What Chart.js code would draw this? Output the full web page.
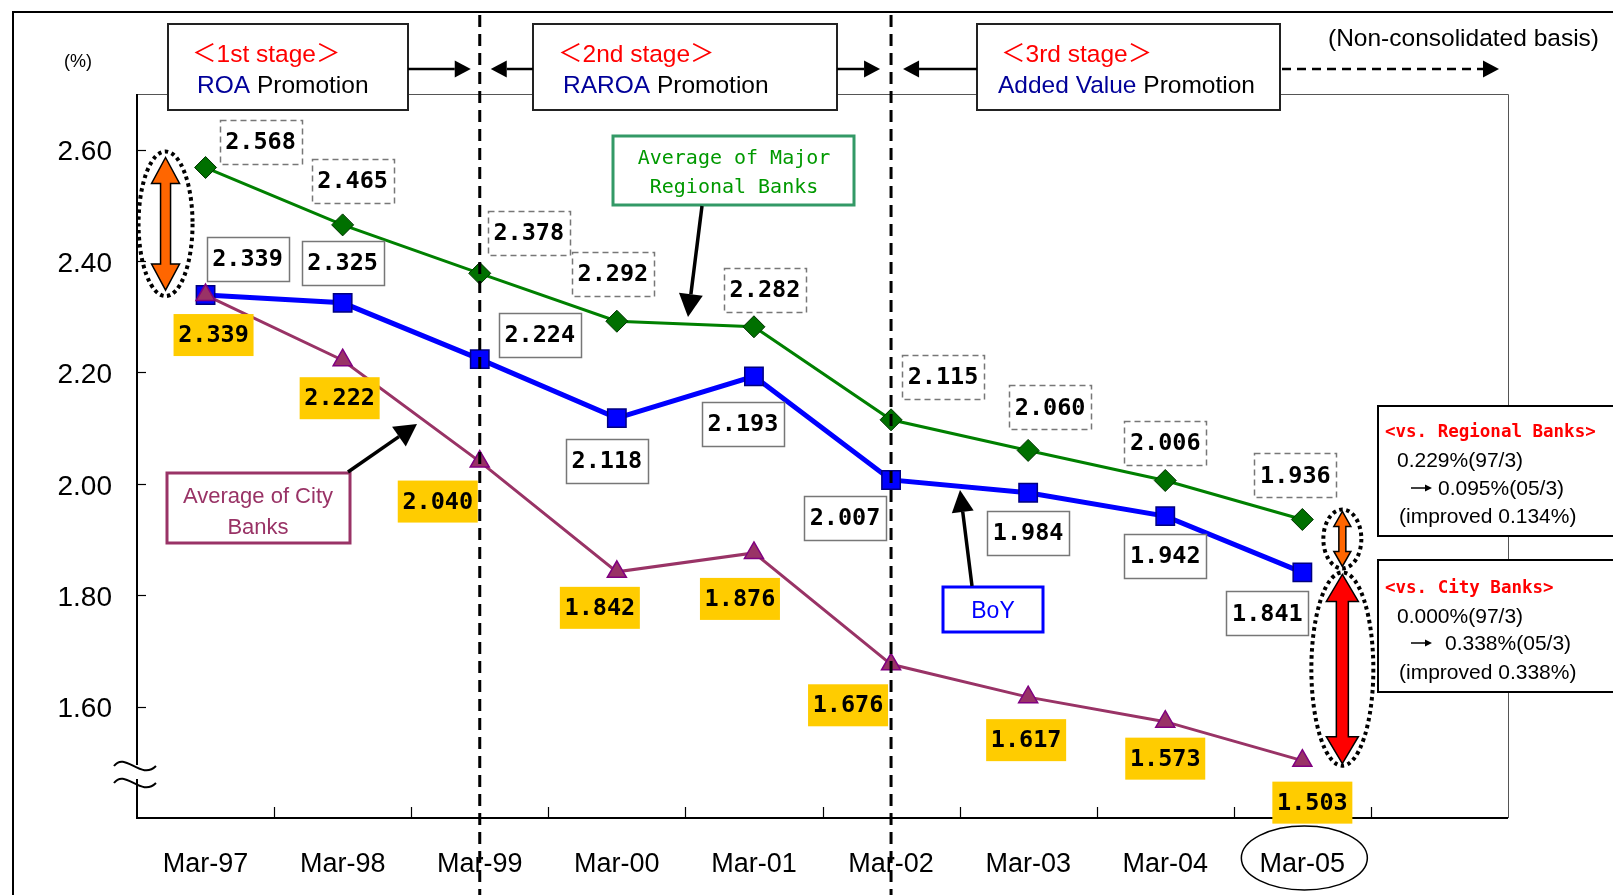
<!DOCTYPE html>
<html><head><meta charset="utf-8">
<script src="https://cdn.jsdelivr.net/npm/chart.js@4/dist/chart.umd.min.js"></script>
<style>html,body{margin:0;padding:0;background:#fff;overflow:hidden}</style>
</head><body>
<canvas id="c" width="1613" height="895"></canvas>
<script>
// ---------- data ----------
const categories = ['Mar-97','Mar-98','Mar-99','Mar-00','Mar-01','Mar-02','Mar-03','Mar-04','Mar-05'];
const regionalBanks = [2.568, 2.465, 2.378, 2.292, 2.282, 2.115, 2.060, 2.006, 1.936];
const boy           = [2.339, 2.325, 2.224, 2.118, 2.193, 2.007, 1.984, 1.942, 1.841];
const cityBanks     = [2.339, 2.222, 2.040, 1.842, 1.876, 1.676, 1.617, 1.573, 1.503];
const yTicks = [1.6, 1.8, 2.0, 2.2, 2.4, 2.6];
const stageBoundaries = ['Mar-99', 'Mar-02'];
const xLabels = categories.concat(['']);

// ---------- layout (pixel offsets of value labels from their points) ----------
const regionalLabelOffsets = [[55,-26],[10,-44],[49,-40],[-4,-47],[11,-37],[52,-43],[22,-43],[0,-38],[-7,-44]];
const boyLabelOffsets      = [[42,-36],[0,-40],[60,-24],[-10,43],[-11,48],[-46,38],[0,40],[0,40],[-35,41]];
const cityLabelOffsets     = [[8,40],[-3,38],[-42,40],[-17,36],[-14,46],[-43,41],[-2,43],[0,37],[10,42]];

const SANS = '"Liberation Sans", "Noto Sans CJK JP", sans-serif';
const MONO = '"DejaVu Sans Mono", monospace';

function arrowLine(ctx, x1, y1, x2, y2, lw, hl, hw, dash) {
  const ang = Math.atan2(y2 - y1, x2 - x1);
  const bx = x2 - hl * Math.cos(ang), by = y2 - hl * Math.sin(ang);
  ctx.save();
  ctx.strokeStyle = '#000'; ctx.fillStyle = '#000'; ctx.lineWidth = lw;
  if (dash) ctx.setLineDash(dash);
  ctx.beginPath(); ctx.moveTo(x1, y1); ctx.lineTo(bx, by); ctx.stroke();
  ctx.setLineDash([]);
  const px = -Math.sin(ang) * hw / 2, py = Math.cos(ang) * hw / 2;
  ctx.beginPath(); ctx.moveTo(x2, y2); ctx.lineTo(bx + px, by + py); ctx.lineTo(bx - px, by - py); ctx.closePath(); ctx.fill();
  ctx.restore();
}

function blockArrow(ctx, x, y1, y2, sw, hw, hl, fill) {
  ctx.save();
  ctx.beginPath();
  ctx.moveTo(x, y1);
  ctx.lineTo(x + hw/2, y1 + hl); ctx.lineTo(x + sw/2, y1 + hl);
  ctx.lineTo(x + sw/2, y2 - hl); ctx.lineTo(x + hw/2, y2 - hl);
  ctx.lineTo(x, y2);
  ctx.lineTo(x - hw/2, y2 - hl); ctx.lineTo(x - sw/2, y2 - hl);
  ctx.lineTo(x - sw/2, y1 + hl); ctx.lineTo(x - hw/2, y1 + hl);
  ctx.closePath();
  ctx.fillStyle = fill; ctx.fill();
  ctx.strokeStyle = '#000'; ctx.lineWidth = 1.5; ctx.stroke();
  ctx.restore();
}

function dottedEllipse(ctx, cx, cy, rx, ry) {
  ctx.save();
  ctx.strokeStyle = '#000'; ctx.lineWidth = 4; ctx.setLineDash([3.5, 3.5]);
  ctx.beginPath(); ctx.ellipse(cx, cy, rx, ry, 0, 0, Math.PI * 2); ctx.stroke();
  ctx.restore();
}

function valueBox(ctx, cx, cy, text, kind) {
  ctx.save();
  let w = 82, h = 44;
  if (kind === 'yellow') { w = 80; h = 42; ctx.fillStyle = '#FFCC00'; ctx.fillRect(cx - w/2, cy - h/2, w, h); }
  else {
    ctx.fillStyle = '#fff'; ctx.fillRect(cx - w/2, cy - h/2, w, h);
    ctx.strokeStyle = '#777'; ctx.lineWidth = 1.5;
    if (kind === 'dashed') ctx.setLineDash([6, 4]);
    ctx.strokeRect(Math.round(cx - w/2) + 0.5, Math.round(cy - h/2) + 0.5, w, h);
    ctx.setLineDash([]);
  }
  ctx.fillStyle = '#000'; ctx.font = 'bold 23.5px ' + MONO;
  ctx.textAlign = 'center'; ctx.textBaseline = 'middle';
  ctx.fillText(text, cx, cy + 1);
  ctx.restore();
}

function segText(ctx, x, y, parts, font) {
  ctx.font = font; ctx.textAlign = 'left'; ctx.textBaseline = 'middle';
  for (const [t, c] of parts) { ctx.fillStyle = c; ctx.fillText(t, x, y); x += ctx.measureText(t).width; }
}

const decor = {
  id: 'decor',
  beforeDraw(chart) {
    const { ctx, chartArea: a } = chart;
    const xs = chart.scales.x, ys = chart.scales.y;
    ctx.save();
    ctx.fillStyle = '#fff'; ctx.fillRect(0, 0, chart.width, chart.height);
    // outer frame
    ctx.strokeStyle = '#000'; ctx.lineWidth = 2;
    ctx.beginPath(); ctx.moveTo(13, 895); ctx.lineTo(13, 12); ctx.lineTo(1613, 12); ctx.stroke();
    // plot border (top/right)
    ctx.strokeStyle = '#555'; ctx.lineWidth = 1;
    ctx.beginPath(); ctx.moveTo(a.left, Math.round(a.top) + 0.5); ctx.lineTo(Math.round(a.right) + 0.5, Math.round(a.top) + 0.5);
    ctx.lineTo(Math.round(a.right) + 0.5, a.bottom); ctx.stroke();
    // axes
    ctx.strokeStyle = '#000'; ctx.lineWidth = 2;
    ctx.beginPath(); ctx.moveTo(a.left, a.top); ctx.lineTo(a.left, a.bottom); ctx.lineTo(a.right, a.bottom); ctx.stroke();
    ctx.lineWidth = 1.2;
    yTicks.forEach(v => {
      const y = Math.round(ys.getPixelForValue(v)) + 0.5;
      ctx.beginPath(); ctx.moveTo(a.left, y); ctx.lineTo(a.left + 9, y); ctx.stroke();
    });
    for (let i = 1; i < xLabels.length; i++) {
      const x = Math.round((xs.getPixelForValue(i - 1) + xs.getPixelForValue(i)) / 2) + 0.5;
      ctx.beginPath(); ctx.moveTo(x, a.bottom); ctx.lineTo(x, a.bottom - 11); ctx.stroke();
    }
    // axis break
    const bx = a.left;
    ctx.fillStyle = '#fff'; ctx.fillRect(bx - 3, 765, 6, 14);
    ctx.lineWidth = 2;
    [765, 782].forEach(y0 => {
      ctx.beginPath(); ctx.moveTo(bx - 23, y0 + 1);
      ctx.bezierCurveTo(bx - 12, y0 - 14, bx + 4, y0 + 16, bx + 19, y0 + 1);
      ctx.stroke();
    });
    // "(%)"
    ctx.fillStyle = '#000'; ctx.font = '18px ' + SANS; ctx.textAlign = 'left'; ctx.textBaseline = 'middle';
    ctx.fillText('(%)', 64, 62);
    ctx.restore();
  },
  afterDatasetsDraw(chart) {
    const { ctx, chartArea: a } = chart;
    const xs = chart.scales.x, ys = chart.scales.y;
    ctx.save();
    // stage boundary dashed lines
    ctx.strokeStyle = '#000'; ctx.lineWidth = 3; ctx.setLineDash([12, 7]);
    const bxs = stageBoundaries.map(b => xs.getPixelForValue(categories.indexOf(b)));
    bxs.forEach(x => { ctx.beginPath(); ctx.moveTo(x, 15); ctx.lineTo(x, 895); ctx.stroke(); });
    ctx.setLineDash([]);

    // top stage boxes
    const boxes = [
      { x: 168, w: 240, stage: '＜1st stage＞', sx: 192, name: 'ROA', nx: 197 },
      { x: 533, w: 304, stage: '＜2nd stage＞', sx: 558, name: 'RAROA', nx: 563 },
      { x: 977, w: 303, stage: '＜3rd stage＞', sx: 1001, name: 'Added Value', nx: 998 }
    ];
    boxes.forEach(b => {
      ctx.fillStyle = '#fff'; ctx.fillRect(b.x, 24, b.w, 86);
      ctx.strokeStyle = '#222'; ctx.lineWidth = 2; ctx.strokeRect(b.x, 24, b.w, 86);
      segText(ctx, b.sx, 55, [[b.stage, '#FF0000']], '24.5px ' + SANS);
      segText(ctx, b.nx, 86, [[b.name, '#000099'], [' Promotion', '#000']], '24.5px ' + SANS);
    });
    arrowLine(ctx, 408, 69, bxs[0] - 9, 69, 2.5, 16, 17);
    arrowLine(ctx, 533, 69, bxs[0] + 11, 69, 2.5, 16, 17);
    arrowLine(ctx, 837, 69, bxs[1] - 11, 69, 2.5, 16, 17);
    arrowLine(ctx, 977, 69, bxs[1] + 12, 69, 2.5, 16, 17);
    arrowLine(ctx, 1282, 69, 1499, 69, 2.5, 16, 17, [9, 6]);
    ctx.fillStyle = '#000'; ctx.font = '24.5px ' + SANS; ctx.textAlign = 'left'; ctx.textBaseline = 'middle';
    ctx.fillText('(Non-consolidated basis)', 1328, 39);

    // value labels
    const px = i => xs.getPixelForValue(i);
    regionalBanks.forEach((v, i) => valueBox(ctx, px(i) + regionalLabelOffsets[i][0], ys.getPixelForValue(v) + regionalLabelOffsets[i][1], v.toFixed(3), 'dashed'));
    boy.forEach((v, i) => valueBox(ctx, px(i) + boyLabelOffsets[i][0], ys.getPixelForValue(v) + boyLabelOffsets[i][1], v.toFixed(3), 'solid'));
    cityBanks.forEach((v, i) => valueBox(ctx, px(i) + cityLabelOffsets[i][0], ys.getPixelForValue(v) + cityLabelOffsets[i][1], v.toFixed(3), 'yellow'));

    // callouts
    ctx.fillStyle = '#fff'; ctx.fillRect(613, 136, 241, 69);
    ctx.strokeStyle = '#339966'; ctx.lineWidth = 3; ctx.strokeRect(613, 136, 241, 69);
    ctx.fillStyle = '#009900'; ctx.font = '20px ' + MONO; ctx.textAlign = 'center'; ctx.textBaseline = 'middle';
    ctx.fillText('Average of Major', 734, 159); ctx.fillText('Regional Banks', 734, 188);
    arrowLine(ctx, 702, 206, 688, 317, 3.5, 23, 24);

    ctx.fillStyle = '#fff'; ctx.fillRect(167, 473, 183, 70);
    ctx.strokeStyle = '#993366'; ctx.lineWidth = 3; ctx.strokeRect(167, 473, 183, 70);
    ctx.fillStyle = '#993366'; ctx.font = '22px ' + SANS; ctx.textAlign = 'center';
    ctx.fillText('Average of City', 258, 497); ctx.fillText('Banks', 258, 528);
    arrowLine(ctx, 348, 472, 417, 424, 3.5, 22, 24);

    ctx.fillStyle = '#fff'; ctx.fillRect(943, 587, 100, 45);
    ctx.strokeStyle = '#0000FF'; ctx.lineWidth = 3; ctx.strokeRect(943, 587, 100, 45);
    ctx.fillStyle = '#0000FF'; ctx.font = '23px ' + SANS; ctx.textAlign = 'center';
    ctx.fillText('BoY', 993, 612);
    arrowLine(ctx, 972, 586, 960, 490, 3.5, 22, 22);

    // gap arrows
    const x0 = px(0) - 40, x8 = px(8) + 40;
    const lt = ys.getPixelForValue(regionalBanks[0]) - 10, lb = ys.getPixelForValue(boy[0]) - 5;
    blockArrow(ctx, x0, lt, lb, 10, 28, 26, '#FF6600');
    dottedEllipse(ctx, x0, (lt + lb) / 2, 27, (lb - lt) / 2 + 6);
    const rt = ys.getPixelForValue(regionalBanks[8]) - 8, rb = ys.getPixelForValue(boy[8]) - 6;
    blockArrow(ctx, x8, rt, rb, 7, 17, 15, '#FF6600');
    dottedEllipse(ctx, x8, (rt + rb) / 2, 19, (rb - rt) / 2 + 2);
    const ct = ys.getPixelForValue(boy[8]) + 2, cb = ys.getPixelForValue(cityBanks[8]) + 3;
    blockArrow(ctx, x8, ct, cb, 12, 32, 27, '#FF0000');
    dottedEllipse(ctx, x8, (ct + cb) / 2, 31, (cb - ct) / 2 + 2);

    // right comparison boxes
    [[406, 130], [560, 132]].forEach(([y, h]) => {
      ctx.fillStyle = '#fff'; ctx.fillRect(1378, y, 240, h);
      ctx.strokeStyle = '#000'; ctx.lineWidth = 2; ctx.strokeRect(1378, y, 240, h);
    });
    const red = '#FF0000', blk = '#000';
    segText(ctx, 1385, 432, [['<vs. Regional Banks>', red]], 'bold 17.5px ' + MONO);
    segText(ctx, 1397, 461, [['0.229%(97/3)', blk]], '21px ' + SANS);
    arrowLine(ctx, 1411, 488, 1432, 488, 1.5, 7, 7);
    segText(ctx, 1438, 489, [['0.095%(05/3)', blk]], '21px ' + SANS);
    segText(ctx, 1399, 517, [['(improved 0.134%)', blk]], '21px ' + SANS);
    segText(ctx, 1385, 588, [['<vs. City Banks>', red]], 'bold 17.5px ' + MONO);
    segText(ctx, 1397, 617, [['0.000%(97/3)', blk]], '21px ' + SANS);
    arrowLine(ctx, 1411, 643, 1432, 643, 1.5, 7, 7);
    segText(ctx, 1445, 644, [['0.338%(05/3)', blk]], '21px ' + SANS);
    segText(ctx, 1399, 673, [['(improved 0.338%)', blk]], '21px ' + SANS);

    // circle around last category
    ctx.strokeStyle = '#000'; ctx.lineWidth = 1.5;
    ctx.beginPath(); ctx.ellipse(px(8) + 2, 858, 63, 32, 0, 0, Math.PI * 2); ctx.stroke();
    ctx.restore();
  }
};

new Chart(document.getElementById('c'), {
  type: 'line',
  data: {
    labels: xLabels,
    datasets: [
      { label: 'Average of City Banks', data: cityBanks, order: 0,
        borderColor: '#993366', borderWidth: 3, pointStyle: 'triangle', pointRadius: 11,
        pointBackgroundColor: '#993366', pointBorderColor: '#800080', pointBorderWidth: 1.5, tension: 0 },
      { label: 'BoY', data: boy, order: 1,
        borderColor: '#0000FF', borderWidth: 5, pointStyle: 'rect', pointRadius: 13,
        pointBackgroundColor: '#0000FF', pointBorderColor: '#000080', pointBorderWidth: 1.5, tension: 0 },
      { label: 'Average of Major Regional Banks', data: regionalBanks, order: 2,
        borderColor: '#008000', borderWidth: 3, pointStyle: 'rectRot', pointRadius: 11,
        pointBackgroundColor: '#007000', pointBorderColor: '#003300', pointBorderWidth: 1, tension: 0 }
    ]
  },
  options: {
    responsive: false, animation: false, devicePixelRatio: 1,
    layout: { padding: { top: 94, right: 105, bottom: 0, left: 0 } },
    plugins: { legend: { display: false }, tooltip: { enabled: false } },
    scales: {
      x: {
        offset: true,
        grid: { display: false, drawTicks: false }, border: { display: false },
        ticks: { color: '#000', font: { family: SANS, size: 27 }, padding: 30, maxRotation: 0, autoSkip: false },
        afterFit: s => { s.height = 77; }
      },
      y: {
        min: 1.4, max: 2.7,
        afterBuildTicks: s => { s.ticks = yTicks.map(v => ({ value: v })); },
        grid: { display: false, drawTicks: false }, border: { display: false },
        ticks: { color: '#000', font: { family: SANS, size: 28 }, padding: 25, labelOffset: 3, callback: v => Number(v).toFixed(2) },
        afterFit: s => { s.width = 137; }
      }
    }
  },
  plugins: [decor]
});
</script>
</body></html>
